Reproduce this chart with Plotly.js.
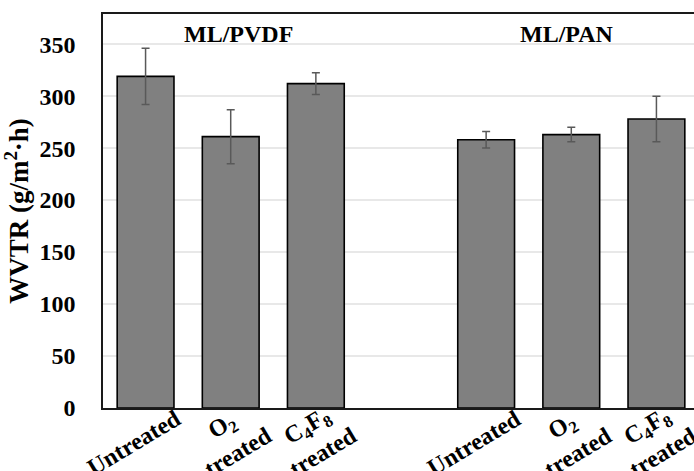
<!DOCTYPE html>
<html>
<head>
<meta charset="utf-8">
<script src="https://cdn.plot.ly/plotly-3.0.1.min.js"></script>
<style>
html, body { margin: 0; padding: 0; overflow: hidden; background: #fff; }
#chart { width: 710px; height: 471px; }
</style>
</head>
<body>
<div id="chart"></div>
<script>
// ---- data ----
const groups = ['ML/PVDF', 'ML/PAN'];
const treatments = ['Untreated', 'O<sub>2</sub><br>treated', 'C<sub>4</sub>F<sub>8</sub><br>treated'];
const pvdfValues = [319, 261, 312];
const pvdfErrors = [27, 26, 10.5];
const panValues = [258, 263, 278];
const panErrors = [8, 7, 22];
const yTicks = [0, 50, 100, 150, 200, 250, 300, 350];

// ---- build categories (one empty slot between the groups) ----
const gapCat = 'gap';
const catKeys = [];
const values = [];
const errors = [];
const labels = [];
treatments.forEach((t, i) => { catKeys.push(groups[0] + '|' + i); values.push(pvdfValues[i]); errors.push(pvdfErrors[i]); labels.push(t); });
catKeys.push(gapCat); values.push(null); errors.push(null); labels.push('');
treatments.forEach((t, i) => { catKeys.push(groups[1] + '|' + i); values.push(panValues[i]); errors.push(panErrors[i]); labels.push(t); });

const FONT = '"Liberation Serif", "Times New Roman", serif';

const trace = {
  type: 'bar',
  x: catKeys,
  y: values,
  marker: { color: '#808080', line: { color: '#000000', width: 1.6 } },
  error_y: { type: 'data', array: errors, visible: true, color: '#595959', thickness: 1.5, width: 4 },
  hoverinfo: 'skip'
};

const annotations = [];
// category labels, rotated like the reference
labels.forEach((lab, i) => {
  if (!lab) return;
  const twoLines = lab.indexOf('<br>') >= 0;
  annotations.push({
    x: catKeys[i], xref: 'x', y: 0, yref: 'paper',
    text: lab, showarrow: false, textangle: -31, align: 'center',
    xanchor: 'center', yanchor: 'middle',
    xshift: twoLines ? -1 : -12, yshift: twoLines ? -30 : -35,
    font: { family: FONT, size: 24, color: '#000', weight: 'bold' }
  });
});
// group titles
const groupShift = [8, -4];
groups.forEach((g, gi) => {
  annotations.push({
    x: catKeys[gi * 4 + 1], xref: 'x', y: 1, yref: 'paper',
    text: g, showarrow: false, xanchor: 'center', yanchor: 'top',
    xshift: groupShift[gi], yshift: -5,
    font: { family: FONT, size: 24, color: '#000', weight: 'bold' }
  });
});

const layout = {
  width: 710, height: 471,
  margin: { l: 103, r: 9, t: 14, b: 63 },
  paper_bgcolor: '#fff', plot_bgcolor: '#fff',
  showlegend: false,
  bargap: 0.333,
  font: { family: FONT, color: '#000' },
  xaxis: {
    type: 'category', categoryorder: 'array', categoryarray: catKeys,
    range: [-0.5, 6.5], showticklabels: false, ticks: '',
    showgrid: false, zeroline: false,
    showline: true, mirror: true, linecolor: '#1a1a1a', linewidth: 1.6
  },
  yaxis: {
    range: [0, 379], tickvals: yTicks, ticktext: yTicks.map(String),
    ticks: '', ticklabelstandoff: 21, automargin: true,
    tickfont: { family: FONT, size: 24, color: '#000', weight: 'bold' },
    showgrid: true, gridcolor: '#e8e8e8', gridwidth: 1.5,
    zeroline: false,
    showline: true, mirror: true, linecolor: '#1a1a1a', linewidth: 1.6,
    title: { text: 'WVTR (g/m<sup>2</sup>·h)', standoff: 4,
             font: { family: FONT, size: 27, color: '#000', weight: 'bold' } }
  },
  annotations: annotations
};

Plotly.newPlot('chart', [trace], layout, { displayModeBar: false, staticPlot: true });
</script>
</body>
</html>
